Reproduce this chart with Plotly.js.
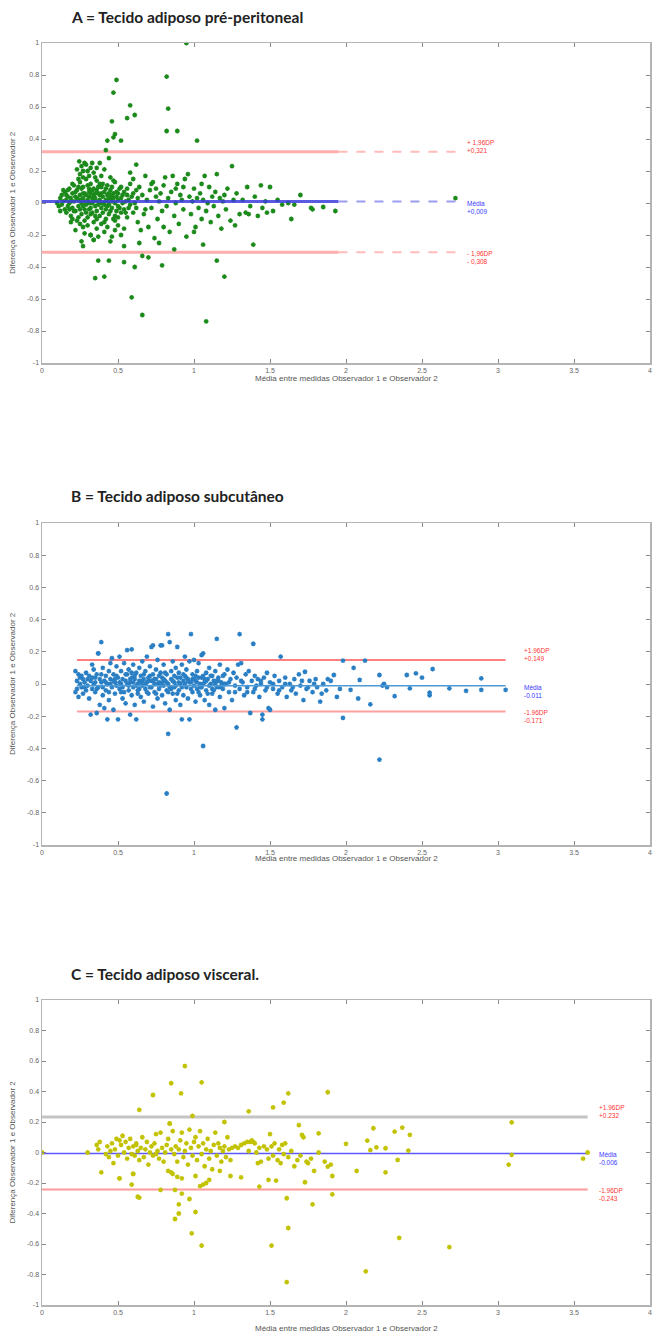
<!DOCTYPE html>
<html>
<head>
<meta charset="utf-8">
<script src="https://cdn.plot.ly/plotly-3.0.1.min.js"></script>
<style>html,body{margin:0;padding:0;background:#fff;}#chart{width:654px;height:1334px;}</style>
</head>
<body>
<div id="chart"></div>
<script>
// ---------- Panel A: Tecido adiposo pré-peritoneal ----------
const aX = [0.10,0.11,0.12,0.13,0.13,0.14,0.15,0.15,0.16,0.16,0.17,0.17,0.18,0.18,0.19,0.19,0.20,0.20,0.21,0.21,0.22,0.22,0.23,0.23,0.24,0.24,0.25,0.25,0.26,0.26,0.27,0.27,0.28,0.28,0.29,0.29,0.30,0.30,0.31,0.31,0.32,0.32,0.33,0.33,0.34,0.34,0.35,0.35,0.36,0.36,0.37,0.37,0.38,0.38,0.39,0.39,0.40,0.40,0.41,0.41,0.42,0.42,0.43,0.43,0.44,0.44,0.45,0.45,0.46,0.46,0.47,0.47,0.48,0.48,0.49,0.49,0.50,0.50,0.51,0.52,0.52,0.53,0.54,0.54,0.55,0.56,0.56,0.57,0.58,0.58,0.59,0.60,0.61,0.62,0.62,0.63,
0.12,0.14,0.18,0.20,0.22,0.24,0.26,0.28,0.30,0.32,0.34,0.36,0.38,0.40,0.42,0.44,0.46,0.48,0.50,0.27,0.31,0.35,0.39,0.43,0.25,0.29,0.33,0.37,
0.16,0.19,0.21,0.23,0.25,0.27,0.29,0.31,0.33,0.35,0.37,0.39,0.41,0.43,0.45,0.47,0.49,0.51,0.53,0.55,0.20,0.24,0.28,0.32,0.36,0.40,0.44,0.48,0.52,0.56,0.17,0.19,0.31,0.34,0.38,0.42,0.46,0.50,0.57,0.60,
0.23,0.245,0.25,0.26,0.27,0.28,0.30,0.31,0.33,0.34,0.36,0.38,0.39,0.41,0.27,0.29,0.32,0.24,0.35,0.45,0.47,
0.22,0.25,0.27,0.28,0.30,0.32,0.34,0.36,0.37,0.39,0.41,0.43,0.45,0.46,0.48,0.50,0.52,0.54,0.26,0.27,0.54,
0.58,0.60,0.62,0.63,0.64,0.65,0.66,0.67,0.68,0.69,0.70,0.71,0.72,0.73,0.74,0.75,0.76,0.77,0.78,0.79,0.80,0.81,0.82,0.83,0.84,0.85,0.86,0.87,0.88,0.89,0.90,0.91,0.92,0.93,0.94,0.95,0.96,0.97,0.98,0.99,1.00,1.01,1.02,1.03,1.04,1.05,1.06,1.07,1.08,1.09,1.10,1.11,1.12,1.13,1.14,1.15,1.16,1.17,1.18,1.19,1.20,1.21,1.22,1.24,1.25,1.26,1.27,1.28,1.30,0.64,0.77,0.87,1.06,0.72,0.80,0.88,0.93,1.00,1.05,0.68,0.75,
1.32,1.34,1.35,1.37,1.39,1.40,1.42,1.44,1.45,1.47,1.50,1.52,1.55,1.58,1.62,1.64,1.66,1.70,1.77,1.78,1.85,1.93,2.72,1.48,1.36,
0.95,0.82,0.49,0.47,0.58,0.83,0.61,0.56,0.46,0.48,0.47,0.52,0.43,1.02,0.82,0.89,0.42,0.44,
0.35,0.41,0.37,0.44,0.54,0.61,0.59,0.66,1.08,0.66,0.70,0.79,1.15,1.20,0.34,0.32];
const aY = [0.00,-0.02,0.03,-0.01,0.05,0.01,-0.04,0.07,0.02,-0.06,0.04,-0.02,0.09,0.00,-0.08,0.03,0.06,-0.03,0.01,0.11,-0.05,0.04,-0.11,0.08,0.02,-0.02,0.13,0.05,-0.07,0.00,0.10,0.03,-0.04,0.06,0.15,-0.01,0.02,-0.09,0.07,0.04,-0.03,0.12,0.00,-0.06,0.05,0.09,-0.02,0.03,0.14,-0.05,0.01,0.06,-0.08,0.02,0.10,-0.03,0.04,0.00,-0.12,0.07,0.02,-0.04,0.11,0.05,-0.01,-0.07,0.03,0.08,-0.03,0.01,0.06,-0.10,0.00,0.13,-0.05,0.04,0.02,-0.02,0.09,-0.06,0.03,0.00,0.07,-0.04,0.01,-0.09,0.05,0.02,-0.01,0.12,0.04,-0.06,0.00,0.08,-0.03,0.03,
-0.05,0.08,-0.04,0.12,0.07,-0.09,0.09,0.01,0.11,-0.07,0.01,0.08,0.05,-0.06,0.09,0.03,0.10,-0.08,0.06,-0.02,-0.04,0.06,0.00,-0.02,0.02,0.05,0.03,-0.01,
0.05,0.01,-0.05,0.03,-0.04,0.06,-0.06,0.00,0.08,-0.08,0.10,0.06,-0.01,0.01,-0.05,0.03,0.07,-0.03,0.05,-0.06,-0.10,0.10,-0.11,0.06,-0.10,0.12,0.06,-0.11,0.10,0.09,0.08,-0.12,0.09,-0.12,0.12,-0.10,0.05,-0.09,-0.03,0.06,
0.21,0.26,0.18,0.23,0.16,0.25,0.20,0.17,0.25,0.19,0.22,0.25,0.17,0.21,0.20,0.24,0.22,0.15,0.16,0.16,0.14,
-0.17,-0.13,-0.15,-0.19,-0.14,-0.20,-0.23,-0.16,-0.21,-0.13,-0.18,-0.15,-0.24,-0.21,-0.17,-0.14,-0.20,-0.16,-0.24,-0.27,-0.27,
0.19,0.15,0.24,-0.12,0.10,-0.17,0.05,-0.07,0.17,0.02,-0.15,0.08,-0.03,0.13,-0.22,0.04,-0.10,0.01,0.06,-0.05,0.11,0.16,-0.02,0.03,-0.18,0.07,0.17,-0.08,0.00,0.12,-0.13,0.05,0.02,-0.04,0.15,-0.21,0.18,0.04,-0.07,0.01,0.09,-0.15,0.03,-0.03,0.06,-0.10,0.02,0.17,-0.05,0.00,0.10,-0.12,0.04,-0.02,0.07,0.18,-0.08,0.03,-0.16,0.01,0.05,-0.04,0.09,-0.11,0.23,0.02,-0.14,0.06,-0.07,-0.25,-0.25,-0.29,-0.26,0.12,-0.15,0.09,0.10,-0.18,0.12,-0.04,0.09,
0.02,-0.06,0.10,-0.02,-0.26,0.04,-0.08,0.11,-0.03,0.01,0.10,-0.05,0.02,-0.01,0.00,-0.10,-0.01,0.05,-0.03,-0.04,-0.025,-0.05,0.03,-0.06,-0.07,
1.00,0.79,0.77,0.69,0.61,0.59,0.55,0.53,0.51,0.43,0.41,0.39,0.39,0.39,0.45,0.45,0.33,0.28,
-0.47,-0.46,-0.36,-0.36,-0.37,-0.40,-0.59,-0.70,-0.74,-0.33,-0.34,-0.39,-0.36,-0.46,-0.23,-0.20];
const aLimitX = [0, 1.95, 2.72];
const aUpper = 0.321, aMean = 0.009, aLower = -0.308;

// ---------- Panel B: Tecido adiposo subcutâneo ----------
const bX = [0.22,0.22,0.23,0.23,0.24,0.24,0.25,0.25,0.26,0.27,0.27,0.28,0.29,0.29,0.30,0.31,0.31,0.32,0.32,0.33,0.33,0.34,0.34,0.35,0.35,0.36,0.36,0.37,0.37,0.38,0.38,0.39,0.39,0.40,0.40,0.41,0.41,0.42,0.42,0.43,0.43,0.44,0.44,0.45,0.45,
0.46,0.46,0.47,0.47,0.48,0.48,0.49,0.49,0.50,0.50,0.51,0.51,0.52,0.52,0.53,0.53,0.54,0.54,0.55,0.55,0.56,0.56,0.57,0.57,0.58,0.58,0.59,0.59,0.60,0.60,0.61,0.61,0.62,0.62,0.63,0.63,0.64,0.64,0.65,0.65,0.66,0.66,0.67,0.67,0.68,0.68,0.69,0.69,0.70,0.70,0.71,0.71,0.72,0.72,0.73,0.73,0.74,0.74,0.75,0.75,0.76,0.76,0.77,0.77,0.78,0.78,0.79,0.79,0.80,0.80,0.81,0.81,0.82,0.82,0.83,0.83,0.84,0.84,0.85,0.85,0.86,0.86,0.87,0.87,0.88,0.88,0.89,0.89,0.90,0.90,0.91,0.91,0.92,0.92,0.93,0.93,0.94,0.94,0.95,0.95,0.96,0.96,0.97,0.97,0.98,0.98,0.99,0.99,1.00,1.00,1.01,1.01,1.02,1.02,1.03,1.03,1.04,1.04,1.05,1.05,1.06,1.06,1.07,1.07,1.08,1.08,1.09,1.10,1.10,1.11,1.12,1.12,1.13,1.14,1.14,1.15,1.15,1.16,1.17,1.17,1.18,1.19,1.20,1.20,
1.21,1.22,1.23,1.24,1.25,1.26,1.27,1.28,1.28,1.29,1.30,1.30,1.31,1.32,1.33,1.34,1.35,1.36,1.37,1.38,1.39,1.39,1.40,1.41,1.42,1.43,1.44,1.45,1.45,1.46,1.47,1.48,1.49,1.50,1.50,1.52,1.53,1.55,1.56,1.57,1.58,1.60,1.61,1.63,1.64,1.66,1.67,1.69,1.70,1.72,1.73,1.74,1.76,1.78,1.80,1.81,1.83,1.85,1.87,1.90,1.92,1.94,1.96,1.98,1.98,2.03,2.05,2.08,2.09,2.125,2.16,2.22,2.24,2.25,2.27,2.32,2.40,2.42,2.46,2.50,2.55,2.55,2.57,2.68,2.79,2.89,2.89,3.05,
0.82,2.22,0.83,1.06,0.59,0.73,0.79,0.37,
0.30,0.35,0.40,0.45,0.48,0.51,0.53,0.56,0.58,0.60,0.62,0.64,0.66,0.68,0.70,0.72,0.74,0.76,0.78,0.80,0.82,0.84,0.86,0.88,0.90,0.92,0.94,0.96,0.98,1.00,1.02,1.04,1.06,1.08,1.10,1.12,1.14,1.16,1.18,1.20,
0.26,0.28,0.33,0.36,0.39,0.42,0.44,0.47,0.49,0.52,0.55,0.57,0.59,0.61,0.63,0.65,0.67,0.69,0.71,0.73,0.75,0.77,0.79,0.81,0.83,0.85,0.87,0.89,0.91,0.93,0.95,0.97,0.99,1.01,1.03,1.05,1.07,1.09,1.11,1.13,1.15,1.17,1.19,1.23,1.27,1.31,1.35,1.40,1.44,1.48,1.52,1.56,1.60,1.65,1.71,1.75,1.79,1.84,1.88];
const bY = [0.08,-0.05,0.02,-0.03,0.06,-0.08,0.00,0.04,-0.02,0.03,-0.06,0.01,-0.04,0.07,-0.01,0.05,-0.09,0.02,-0.19,0.12,-0.03,0.09,0.00,-0.05,0.04,-0.18,0.06,0.19,-0.02,0.03,-0.13,0.26,0.01,-0.07,0.10,-0.15,0.02,0.05,-0.04,-0.22,0.00,0.08,-0.10,0.13,0.03,
-0.02,0.16,0.06,-0.16,0.01,-0.06,0.11,-0.01,0.04,-0.22,0.17,-0.03,0.08,0.00,-0.09,0.03,0.13,-0.05,0.02,-0.12,0.21,0.06,-0.01,0.09,-0.19,0.01,0.04,-0.07,0.12,-0.02,0.03,-0.13,-0.22,0.07,0.00,-0.04,0.10,0.02,-0.08,0.05,0.14,-0.01,0.03,-0.11,0.08,-0.03,0.01,0.17,-0.06,0.04,0.11,-0.02,0.23,0.02,-0.14,0.06,0.00,-0.05,0.09,0.03,-0.09,0.15,0.01,-0.03,0.07,0.24,-0.07,0.04,0.12,-0.01,0.02,-0.12,0.06,-0.04,0.31,0.00,0.26,-0.16,0.08,0.03,-0.06,0.14,0.01,-0.02,0.10,-0.10,0.23,0.04,-0.04,0.07,0.00,-0.13,0.12,-0.22,0.02,-0.07,0.05,0.17,-0.02,0.09,0.03,-0.09,0.14,-0.22,0.31,0.01,-0.05,0.06,0.15,-0.01,0.02,-0.11,0.08,-0.03,0.04,0.13,-0.07,0.00,0.18,-0.02,0.19,0.05,-0.10,0.01,0.07,-0.04,0.03,-0.13,0.10,0.00,-0.06,0.05,0.02,-0.16,0.08,0.28,-0.02,0.04,-0.08,0.12,0.01,-0.03,0.06,-0.15,
0.00,0.09,-0.05,0.03,-0.10,0.07,-0.01,-0.27,0.04,0.12,0.31,-0.03,0.13,0.01,-0.07,0.06,-0.02,0.08,-0.18,0.02,0.25,-0.05,0.05,-0.01,0.03,-0.08,0.00,-0.22,-0.19,0.04,-0.04,0.07,-0.15,-0.16,0.01,-0.03,0.05,-0.06,0.02,0.17,-0.02,0.04,-0.08,0.00,-0.04,0.03,-0.06,0.06,-0.01,-0.10,0.076,-0.03,0.02,-0.05,0.03,-0.02,-0.11,0.00,-0.04,0.02,0.056,-0.08,-0.03,0.145,-0.21,-0.037,0.10,-0.09,0.025,0.145,-0.126,0.056,-0.01,0.00,-0.02,-0.075,0.056,-0.027,0.066,0.04,-0.054,-0.07,0.093,-0.027,-0.043,0.035,-0.037,-0.037,
-0.68,-0.47,-0.31,-0.385,0.215,0.24,0.24,0.19,
0.03,0.01,-0.02,0.00,0.03,0.01,-0.02,0.00,0.03,0.01,-0.01,-0.03,0.02,0.00,0.02,-0.02,0.03,0.00,-0.01,0.03,0.01,-0.02,0.02,-0.01,0.01,-0.02,0.00,0.02,-0.03,0.03,0.01,-0.02,0.00,0.02,-0.01,-0.03,0.00,0.02,-0.01,0.00,
0.05,-0.02,0.04,-0.03,0.06,0.01,-0.05,0.02,0.05,-0.05,0.06,-0.04,0.07,0.05,-0.06,0.01,0.06,-0.05,0.05,0.02,-0.06,0.05,0.01,0.07,-0.05,-0.03,0.05,-0.06,0.04,0.06,0.04,0.01,0.03,0.05,-0.05,0.04,0.03,-0.06,0.05,-0.04,0.02,-0.02,0.05,0.01,-0.05,0.02,-0.05,-0.03,0.02,-0.02,0.00,-0.04,0.00,-0.02,0.02,-0.02,0.00,-0.06,0.03];
const bLimitX = [0.23, 3.05];
const bUpper = 0.149, bMean = -0.011, bLower = -0.171;

// ---------- Panel C: Tecido adiposo visceral ----------
const cX = [0.00,0.30,0.36,0.37,0.38,0.39,0.42,0.43,0.44,0.45,0.46,0.47,0.48,0.49,0.50,0.51,0.51,0.52,0.53,0.54,0.55,0.56,0.57,0.58,0.59,0.60,0.60,0.61,0.62,0.63,0.64,0.65,0.66,0.67,0.68,0.69,0.70,0.71,0.72,0.73,0.74,0.75,0.76,0.77,0.78,0.79,0.80,0.81,0.82,0.83,0.84,0.85,0.86,0.86,0.87,0.88,0.89,0.90,0.91,0.92,0.93,0.94,0.95,0.96,0.97,0.98,0.99,1.00,1.01,1.02,1.03,1.04,1.05,1.06,1.07,1.08,1.09,1.10,1.11,1.12,1.13,1.14,1.15,1.16,1.17,1.18,1.19,1.20,1.21,1.22,1.23,1.24,1.25,1.27,1.29,1.31,1.33,1.35,1.36,1.37,1.38,1.39,1.40,1.41,1.42,1.43,1.44,1.46,1.48,1.49,1.50,1.51,1.52,1.53,1.55,1.56,1.57,1.58,1.59,1.60,1.62,1.64,1.66,1.68,1.70,1.74,1.75,1.77,1.79,1.82,1.86,1.88,1.90,
0.94,0.85,1.05,0.915,0.73,0.64,0.99,0.84,1.20,1.36,1.52,1.59,1.62,1.88,1.69,1.71,1.72,1.82,2.18,2.32,2.37,2.42,2.14,2.00,2.20,2.26,2.16,2.41,2.34,2.26,2.07,1.91,1.91,1.78,1.61,1.62,1.51,1.61,2.13,2.35,1.05,0.985,0.875,0.90,0.90,0.92,1.01,0.97,0.64,0.63,0.78,0.875,1.04,1.06,1.08,1.10,1.43,1.49,1.54,1.31,1.24,1.17,1.01,0.89,0.85,0.92,0.60,0.51,0.59,1.73,3.09,3.09,3.07,3.59,3.56,2.68,0.62,0.75,0.83];
const cY = [0.00,0.00,0.05,0.02,0.07,-0.13,-0.01,0.04,-0.03,0.01,0.06,-0.07,0.02,0.09,-0.02,0.08,-0.17,0.05,0.11,0.00,0.07,-0.04,0.03,0.09,-0.01,0.04,-0.14,-0.02,0.06,0.01,-0.05,0.03,0.10,-0.03,0.02,0.07,-0.08,0.00,0.04,-0.02,0.06,0.12,0.01,-0.04,0.13,0.03,-0.06,0.00,0.05,-0.12,0.19,0.02,0.14,-0.14,-0.01,0.04,-0.06,0.02,0.08,0.13,-0.03,0.01,0.06,-0.08,0.15,0.03,-0.02,0.07,0.10,-0.05,0.04,0.14,-0.01,0.06,-0.09,0.02,0.09,-0.04,0.01,-0.11,0.05,0.13,-0.02,0.06,0.03,-0.06,0.01,0.04,-0.03,0.10,0.02,-0.05,0.03,0.04,0.03,0.05,0.06,0.07,0.01,0.07,0.08,0.07,0.06,0.00,-0.07,0.03,-0.06,0.04,0.02,-0.04,0.12,0.04,-0.02,0.06,-0.05,0.02,-0.07,0.05,-0.01,0.06,-0.03,0.01,-0.09,-0.05,-0.02,-0.06,-0.07,-0.04,-0.12,0.00,-0.06,-0.093,-0.08,
0.567,0.454,0.46,0.388,0.377,0.279,0.24,0.19,0.20,0.27,0.296,0.327,0.388,0.395,0.18,0.115,0.10,0.126,0.159,0.137,0.163,0.115,0.078,0.056,0.034,0.028,0.016,0.012,-0.049,-0.13,-0.12,-0.154,-0.274,-0.34,-0.30,-0.495,-0.61,-0.85,-0.78,-0.56,-0.61,-0.53,-0.436,-0.40,-0.34,-0.27,-0.39,-0.305,-0.296,-0.29,-0.245,-0.245,-0.22,-0.21,-0.20,-0.18,-0.224,-0.18,-0.185,-0.163,-0.154,-0.12,-0.154,-0.16,-0.13,-0.17,-0.14,-0.17,-0.21,-0.195,0.198,-0.016,-0.08,0.00,-0.04,-0.62,0.05,-0.01,0.09];
const cLimitX = [0, 3.59];
const cUpper = 0.232, cMean = -0.006, cLower = -0.243;

// ---------- Text ----------
const panelTitles = ["A = Tecido adiposo pré-peritoneal", "B = Tecido adiposo subcutâneo", "C = Tecido adiposo visceral."];
const xTitle = "Média entre medidas Observador 1 e Observador 2";
const yTitle = "Diferença Observador 1 e Observador 2";
const xTickVals = [0,0.5,1,1.5,2,2.5,3,3.5,4];
const xTickText = ["0","0.5","1","1.5","2","2.5","3","3.5","4"];
const yTickVals = [-1,-0.8,-0.6,-0.4,-0.2,0,0.2,0.4,0.6,0.8,1];
const yTickText = ["-1","-0.8","-0.6","-0.4","-0.2","0","0.2","0.4","0.6","0.8","1"];
const aLabels = [["+ 1,96DP","+0,321"],["Média","+0,009"],["- 1,96DP","- 0,308"]];
const bLabels = [["+1.96DP","+0.149"],["Média","-0.011"],["-1.96DP","-0.171"]];
const cLabels = [["+1.96DP","+0.232"],["Média","-0.006"],["-1.96DP","-0.243"]];

// ---------- Build ----------
const W = 654, H = 1334;
const fx = px => px / W;
const fy = py => 1 - py / H;

function hline(xs, y, color, width, dash, xa, ya) {
  return {x: xs, y: xs.map(() => y), mode: 'lines', type: 'scatter', xaxis: xa, yaxis: ya,
          line: {color: color, width: width, dash: dash || 'solid'}, hoverinfo: 'skip', showlegend: false};
}
function pts(xs, ys, color, xa, ya) {
  return {x: xs, y: ys, mode: 'markers', type: 'scatter', xaxis: xa, yaxis: ya, showlegend: false,
          marker: {symbol: 'asterisk-open', size: 4, color: color, line: {color: color, width: 1.3}}};
}

const traces = [
  hline([aLimitX[0], aLimitX[1]], aUpper, 'rgba(255,140,140,0.7)', 3, 'solid', 'x', 'y'),
  hline([aLimitX[1], aLimitX[2]], aUpper, 'rgba(255,140,140,0.6)', 2, 'dash', 'x', 'y'),
  hline([aLimitX[0], aLimitX[1]], aLower, 'rgba(255,140,140,0.7)', 3, 'solid', 'x', 'y'),
  hline([aLimitX[1], aLimitX[2]], aLower, 'rgba(255,140,140,0.6)', 2, 'dash', 'x', 'y'),
  pts(aX, aY, '#1b8a1b', 'x', 'y'),
  hline([aLimitX[0], aLimitX[1]], aMean, 'rgba(60,60,220,0.85)', 3, 'solid', 'x', 'y'),
  hline([aLimitX[1], aLimitX[2]], aMean, 'rgba(90,90,230,0.6)', 2, 'dash', 'x', 'y'),

  hline(bLimitX, bUpper, '#ff8080', 2, 'solid', 'x2', 'y2'),
  hline(bLimitX, bLower, '#ffa0a0', 2, 'solid', 'x2', 'y2'),
  pts(bX, bY, '#2a7fc4', 'x2', 'y2'),
  hline(bLimitX, bMean, '#4d9ad6', 1.5, 'solid', 'x2', 'y2'),

  hline(cLimitX, cUpper, '#c4c4c4', 3, 'solid', 'x3', 'y3'),
  hline(cLimitX, cLower, '#ff9a9a', 2, 'solid', 'x3', 'y3'),
  hline(cLimitX, cMean, '#5a5aff', 1.5, 'solid', 'x3', 'y3'),
  pts(cX, cY, '#c2c200', 'x3', 'y3')
];

function xax(dom, anchor) {
  return {domain: dom, anchor: anchor, range: [0, 4], tickvals: xTickVals, ticktext: xTickText,
          ticks: 'inside', ticklen: 4, tickcolor: '#888', tickwidth: 1, mirror: 'ticks',
          showline: true, linecolor: '#b4b4b4', linewidth: 1.5, showgrid: false, zeroline: false,
          tickfont: {family: 'Arial, Liberation Sans, sans-serif', size: 7, color: '#666'}, fixedrange: true};
}
function yax(dom, anchor) {
  return {domain: dom, anchor: anchor, range: [-1, 1], tickvals: yTickVals, ticktext: yTickText,
          ticks: 'inside', ticklen: 4, tickcolor: '#888', tickwidth: 1, mirror: 'ticks',
          showline: true, linecolor: '#b4b4b4', linewidth: 1.5, showgrid: false, zeroline: false,
          tickfont: {family: 'Arial, Liberation Sans, sans-serif', size: 7, color: '#666'}, fixedrange: true};
}

const panels = [
  {top: 43, bot: 363, titleY: 17, xTitleY: 378, labels: aLabels, lx: 2.78, xa: 'x', ya: 'y', vals: [aUpper, aMean, aLower]},
  {top: 523, bot: 845, titleY: 496, xTitleY: 858, labels: bLabels, lx: 3.16, xa: 'x2', ya: 'y2', vals: [bUpper, bMean, bLower]},
  {top: 1000, bot: 1305, titleY: 974, xTitleY: 1328, labels: cLabels, lx: 3.65, xa: 'x3', ya: 'y3', vals: [cUpper, cMean, cLower]}
];

const layout = {
  width: W, height: H, margin: {l: 0, r: 0, t: 0, b: 0}, paper_bgcolor: '#fff', plot_bgcolor: '#fff',
  showlegend: false,
  xaxis: xax([fx(42), fx(650)], 'y'), yaxis: yax([fy(363), fy(43)], 'x'),
  xaxis2: xax([fx(42), fx(650)], 'y2'), yaxis2: yax([fy(845), fy(523)], 'x2'),
  xaxis3: xax([fx(42), fx(650)], 'y3'), yaxis3: yax([fy(1305), fy(1000)], 'x3'),
  annotations: []
};

const labelColors = ['#ff3333', '#3a3aff', '#ff3333'];
const labelOffsets = [0.035, -0.035, -0.03];
panels.forEach((p, i) => {
  layout.annotations.push({text: '<b>' + panelTitles[i] + '</b>', xref: 'paper', yref: 'paper',
    x: fx(69), y: fy(p.titleY), xanchor: 'left', yanchor: 'middle', showarrow: false,
    font: {family: 'Lato, Open Sans, sans-serif', size: 15.5, color: '#222'}});
  layout.annotations.push({text: xTitle, xref: 'paper', yref: 'paper', x: fx(346), y: fy(p.xTitleY),
    xanchor: 'center', yanchor: 'middle', showarrow: false,
    font: {family: 'Arial, Liberation Sans, sans-serif', size: 8, color: '#555'}});
  layout.annotations.push({text: yTitle, xref: 'paper', yref: 'paper', x: fx(12), y: fy((p.top + p.bot) / 2),
    xanchor: 'center', yanchor: 'middle', textangle: -90, showarrow: false,
    font: {family: 'Arial, Liberation Sans, sans-serif', size: 8, color: '#555'}});
  p.labels.forEach((lab, k) => {
    layout.annotations.push({text: lab[0] + '<br>' + lab[1], xref: p.xa, yref: p.ya,
      x: p.lx, y: p.vals[k] + labelOffsets[k], xanchor: 'left', yanchor: 'middle', align: 'left', showarrow: false,
      font: {family: 'Arial, Liberation Sans, sans-serif', size: 6.5, color: labelColors[k]}});
  });
});

Plotly.newPlot('chart', traces, layout, {staticPlot: true, displayModeBar: false});
</script>
</body>
</html>
